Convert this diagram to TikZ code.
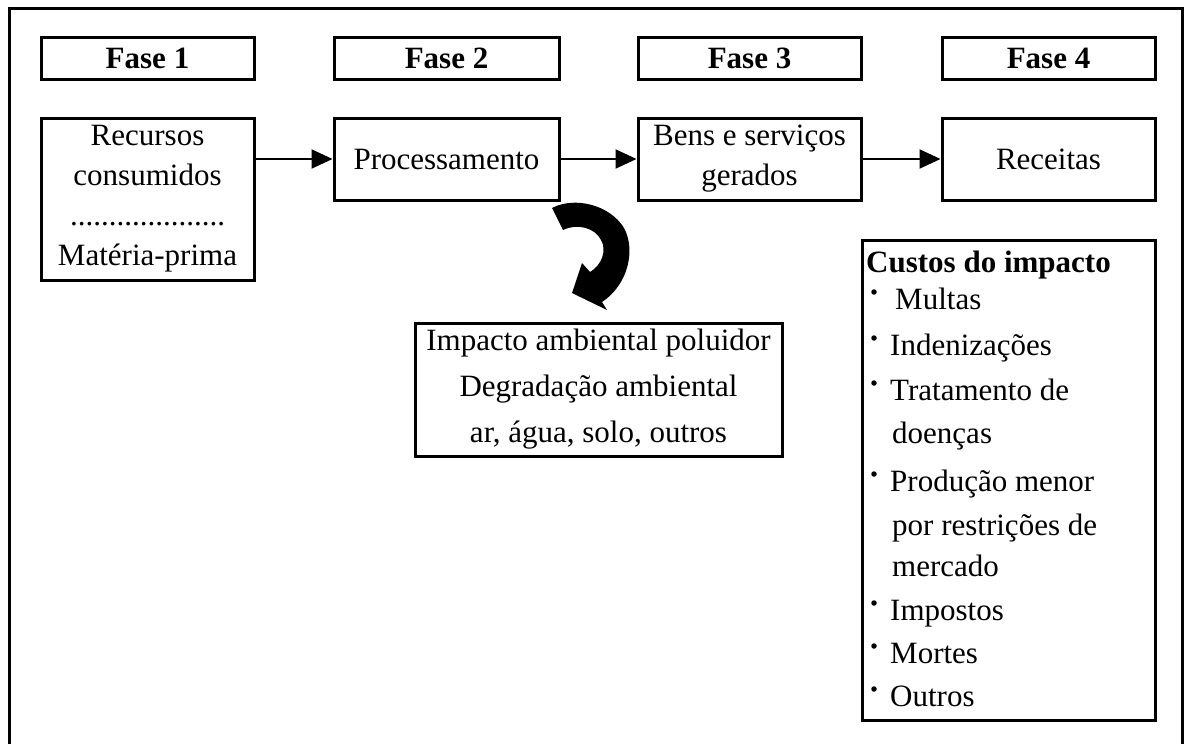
\documentclass[tikz,border=0pt]{standalone}
\usepackage{fontspec}
\setmainfont{Liberation Serif}
\usetikzlibrary{arrows.meta}
\begin{document}
\begin{tikzpicture}[x=1pt,y=-1pt,
  box/.style={draw, line width=3pt, inner sep=0pt, align=center, font=\fontsize{31}{40}\selectfont},
  fasebox/.style={box, font=\fontsize{31}{36}\selectfont\bfseries},
  conn/.style={line width=2pt, -{Triangle[length=21pt,width=19pt]}},
  item/.style={anchor=base west, inner sep=0pt, font=\fontsize{31}{36}\selectfont},
  dot/.style={circle, fill, inner sep=0pt, minimum size=5.5pt}
  ]
\useasboundingbox (0,0) rectangle (1185,744);
% outer frame
\draw[line width=3pt] (9,744) -- (9,8) -- (1182,8) -- (1182,744);

% phase headers
\node[fasebox, minimum width=213pt, minimum height=42pt] (f1) at (147.5,58) {Fase 1};
\node[fasebox, minimum width=225pt, minimum height=42pt] (f2) at (446.5,58) {Fase 2};
\node[fasebox, minimum width=223pt, minimum height=42pt] (f3) at (749.5,58) {Fase 3};
\node[fasebox, minimum width=213pt, minimum height=42pt] (f4) at (1048.5,58) {Fase 4};

% main row
\node[box, minimum width=213pt, minimum height=162pt] (rec) at (147.5,199)
  {Recursos\\consumidos\\....................\\Matéria-prima};
\node[box, minimum width=225pt, minimum height=82pt] (proc) at (446.5,159) {Processamento};
\node[box, minimum width=223pt, minimum height=82pt] (bens) at (749.5,159) {Bens e serviços\\gerados};
\node[box, minimum width=213pt, minimum height=82pt] (rece) at (1048.5,159) {Receitas};

\draw[conn] (rec.east |- proc.west) -- (proc.west);
\draw[conn] (proc.east) -- (bens.west);
\draw[conn] (bens.east) -- (rece.west);

% curved block arrow
\fill (552,208) .. controls (575,196) and (610,205) .. (624,228)
  .. controls (636,250) and (628,285) .. (602,302)
  -- (607,310) -- (572,293) -- (582,263) -- (590,272)
  .. controls (602,265) and (607,250) .. (601,240)
  .. controls (595,228) and (578,223) .. (563,230) -- cycle;

% impact box
\node[box, font=\fontsize{31}{46}\selectfont, minimum width=367pt, minimum height=133pt] (imp) at (598.5,389.5)
  {Impacto ambiental poluidor\\Degradação ambiental\\ar, água, solo, outros};

% costs box
\node[draw, line width=3pt, inner sep=0pt, minimum width=293pt, minimum height=480pt] (cust) at (1008.5,480) {};
\node[item, font=\fontsize{31}{36}\selectfont\bfseries] (c0) at (866,272) {Custos do impacto};
\node[item] (c1) at (895,309) {Multas};
\node[item] (c2) at (890,355) {Indenizações};
\node[item] (c3) at (890,400) {Tratamento de};
\node[item] (c4) at (892,443) {doenças};
\node[item] (c5) at (890,491) {Produção menor};
\node[item] (c6) at (892,535) {por restrições de};
\node[item] (c7) at (892,576) {mercado};
\node[item] (c8) at (890,620) {Impostos};
\node[item] (c9) at (890,663) {Mortes};
\node[item] (c10) at (890,706) {Outros};
\foreach \n/\y in {b1/309, b2/355, b3/400, b5/491, b8/620, b9/663, b10/706}
  \node[dot] (\n) at (874,\y-17) {};
\end{tikzpicture}
\end{document}
